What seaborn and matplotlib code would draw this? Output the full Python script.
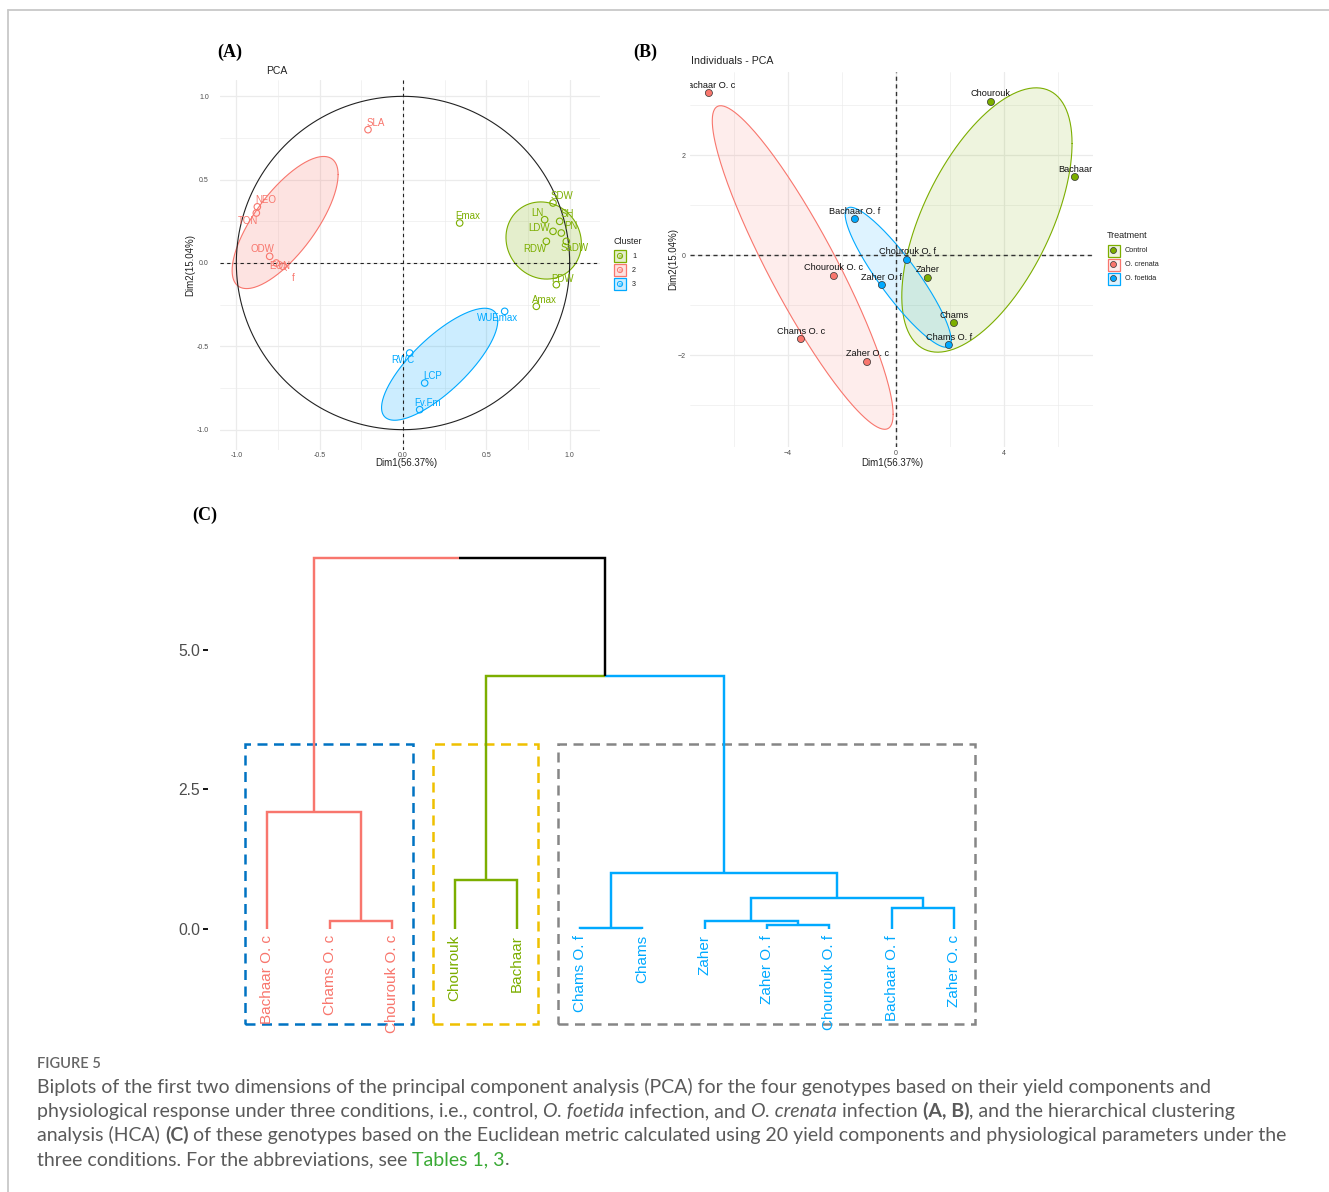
import numpy as np
import pandas as pd
import matplotlib
matplotlib.use("Agg")
import matplotlib.pyplot as plt
from matplotlib.patches import Rectangle, Circle
import seaborn as sns

# ---------------- data ----------------
# (A) variables projected on the first two dimensions
var_names = ["SLA", "NEO", "TON", "ODW", "EON", "f",
             "SDW", "LN", "SH", "LDW", "PN", "RDW", "SaDW", "PDW", "Amax", "Emax",
             "WUEmax", "RWC", "LCP", "Fv.Fm"]
var_dim1 = [-0.21, -0.874, -0.88, -0.80, -0.76, -0.72,
            0.90, 0.85, 0.94, 0.90, 0.95, 0.86, 0.98, 0.92, 0.80, 0.34,
            0.61, 0.04, 0.13, 0.10]
var_dim2 = [0.80, 0.337, 0.30, 0.04, 0.00, -0.02,
            0.36, 0.26, 0.25, 0.19, 0.18, 0.13, 0.13, -0.13, -0.26, 0.24,
            -0.29, -0.54, -0.72, -0.88]
var_cluster = ["2"] * 6 + ["1"] * 10 + ["3"] * 4
cluster_levels = ["1", "2", "3"]

# (B) individuals (genotype x condition)
ind_names = ["Chourouk", "Bachaar", "Zaher", "Chams",
             "Bachaar O. c", "Chourouk O. c", "Chams O. c", "Zaher O. c",
             "Bachaar O. f", "Chourouk O. f", "Zaher O. f", "Chams O. f"]
ind_dim1 = [3.52, 6.63, 1.18, 2.15,
            -6.93, -2.30, -3.52, -1.07,
            -1.52, 0.41, -0.52, 1.96]
ind_dim2 = [3.06, 1.56, -0.46, -1.36,
            3.24, -0.42, -1.68, -2.14,
            0.72, -0.10, -0.60, -1.80]
ind_treatment = ["Control"] * 4 + ["O. crenata"] * 4 + ["O. foetida"] * 4
treatment_levels = ["Control", "O. crenata", "O. foetida"]

# (C) hierarchical clustering: leaves in plotting order and merge table
leaf_labels = ["Bachaar O. c", "Chams O. c", "Chourouk O. c", "Chourouk", "Bachaar",
               "Chams O. f", "Chams", "Zaher", "Zaher O. f", "Chourouk O. f",
               "Bachaar O. f", "Zaher O. c"]
leaf_group = [1, 1, 1, 2, 2, 3, 3, 3, 3, 3, 3, 3]
merge_left = [1, 0, 3, 5, 8, 7, 10, 17, 15, 14, 13]
merge_right = [2, 12, 4, 6, 9, 16, 11, 18, 19, 20, 21]
merge_height = [0.15, 2.095, 0.875, 0.015, 0.08, 0.143, 0.37, 0.55, 1.01, 4.53, 6.64]
dend_ticks = [0.0, 2.5, 5.0]

# ---------------- style ----------------
RED, GREEN, BLUE = "#F8766D", "#7CAE00", "#00A9FF"
cluster_colors = {"1": GREEN, "2": RED, "3": BLUE}
treat_colors = {"Control": GREEN, "O. crenata": RED, "O. foetida": BLUE}
group_colors = {1: RED, 2: GREEN, 3: BLUE}
rect_colors = {1: "#0073C2", 2: "#EFC000", 3: "#868686"}
GRID = "#EBEBEB"
TICK = "#4D4D4D"

sns.set_theme(style="white")
plt.rcParams["font.family"] = ["Liberation Sans", "DejaVu Sans"]

W, H = 1329, 1192
fig = plt.figure(figsize=(W / 100, H / 100), dpi=100)
fig.patch.set_facecolor("white")


def px_axes(l, t, r, b, **kw):
    return fig.add_axes([l / W, 1 - b / H, (r - l) / W, (b - t) / H], **kw)


def norm_ellipse(x, y, level=0.5, npts=240):
    """Normal-theory data ellipse (as stat_ellipse type='norm')."""
    pts = np.column_stack([x, y])
    n = len(pts)
    center = pts.mean(axis=0)
    cov = np.cov(pts.T)
    d2 = n - 1
    q = d2 / 2 * ((1 - level) ** (-2 / d2) - 1)
    r = np.sqrt(2 * q)
    L = np.linalg.cholesky(cov)
    t = np.linspace(0, 2 * np.pi, npts)
    circ = np.column_stack([np.cos(t), np.sin(t)])
    return center + r * circ @ L.T


def minimal_grid(ax, major_x, minor_x, major_y, minor_y):
    for v in minor_x:
        ax.axvline(v, color=GRID, lw=0.45, zorder=0)
    for v in minor_y:
        ax.axhline(v, color=GRID, lw=0.45, zorder=0)
    for v in major_x:
        ax.axvline(v, color=GRID, lw=0.9, zorder=0)
    for v in major_y:
        ax.axhline(v, color=GRID, lw=0.9, zorder=0)
    ax.grid(False)
    for s in ax.spines.values():
        s.set_visible(False)


# overlay for frame, legends, panel tags and caption (pixel units)
ov = fig.add_axes([0, 0, 1, 1], zorder=-1)
ov.set_xlim(0, W)
ov.set_ylim(H, 0)
ov.axis("off")
ov.plot([7.5, 7.5], [9.5, H], color="#C8C8C8", lw=1.3)
ov.plot([7.5, W], [9.5, 9.5], color="#C8C8C8", lw=1.3)

# ================= (A) variables PCA =================
axA = px_axes(220, 80, 600, 450)
axA.set_xlim(-1.098, 1.182)
axA.set_ylim(-1.122, 1.098)
minimal_grid(axA, [-1, -0.5, 0, 0.5, 1], [-0.75, -0.25, 0.25, 0.75],
             [-1, -0.5, 0, 0.5, 1], [-0.75, -0.25, 0.25, 0.75])

dfA = pd.DataFrame({"Dim1": var_dim1, "Dim2": var_dim2, "Cluster": var_cluster, "name": var_names})
for cl in cluster_levels:
    sub = dfA[dfA["Cluster"] == cl]
    ell = norm_ellipse(sub["Dim1"].values, sub["Dim2"].values)
    axA.fill(ell[:, 0], ell[:, 1], facecolor=cluster_colors[cl], alpha=0.2, lw=0, zorder=1)
    axA.plot(ell[:, 0], ell[:, 1], color=cluster_colors[cl], lw=0.8, zorder=2)

th = np.linspace(0, 2 * np.pi, 400)
axA.plot(np.cos(th), np.sin(th), color="#222222", lw=0.8, zorder=3)
axA.axhline(0, color="#222222", lw=0.8, ls=(0, (3, 3)), zorder=3)
axA.axvline(0, color="#222222", lw=0.8, ls=(0, (3, 3)), zorder=3)

sns.scatterplot(data=dfA, x="Dim1", y="Dim2", hue="Cluster", palette=cluster_colors,
                hue_order=cluster_levels, s=22, linewidth=0.8, legend=False, ax=axA, zorder=4)
coll = axA.collections[-1]
coll.set_edgecolors(coll.get_facecolors())
coll.set_facecolors("none")

labA_off = {"SLA": (8, 7), "NEO": (8, 7), "TON": (-8, -8), "ODW": (-7, 7), "EON": (3, -3),
            "f": (10, -12), "SDW": (9, 7), "LN": (-7, 7), "SH": (8, 7), "LDW": (-14, 3),
            "PN": (10, 7), "RDW": (-11, -8), "SaDW": (8, -7), "PDW": (6, 6), "Amax": (8, 6),
            "Emax": (8, 7), "WUEmax": (-7, -7), "RWC": (-7, -7), "LCP": (8, 7), "Fv.Fm": (8, 7)}
for _, row in dfA.iterrows():
    dx, dy = labA_off[row["name"]]
    kw = {}
    if row["name"] == "f":
        kw["arrowprops"] = dict(arrowstyle="-", color=cluster_colors[row["Cluster"]], lw=0.6,
                                shrinkA=2, shrinkB=1)
    axA.annotate(row["name"], (row["Dim1"], row["Dim2"]), xytext=(dx * 0.72, dy * 0.72),
                 textcoords="offset points", ha="center", va="center", fontsize=7,
                 color=cluster_colors[row["Cluster"]], zorder=5, **kw)

axA.set_xticks([-1, -0.5, 0, 0.5, 1])
axA.set_xticklabels(["-1.0", "-0.5", "0.0", "0.5", "1.0"])
axA.set_yticks([-1, -0.5, 0, 0.5, 1])
axA.set_yticklabels(["-1.0", "-0.5", "0.0", "0.5", "1.0"])
axA.tick_params(axis="both", length=0, labelsize=5, labelcolor=TICK)
axA.tick_params(axis="x", pad=1.5)
axA.tick_params(axis="y", pad=8)
axA.set_xlabel("")
axA.set_ylabel("")
ov.text(406, 463, "Dim1(56.37%)", fontsize=7, ha="center", va="center", color="#222222")
ov.text(190, 265, "Dim2(15.04%)", fontsize=7, ha="center", va="center", rotation=90, color="#222222")
ov.text(266, 71, "PCA", fontsize=7.5, ha="left", va="center", color="#222222")

# legend (A)
ov.text(613, 241, "Cluster", fontsize=6.4, ha="left", va="center", color="#222222")
for i, cl in enumerate(cluster_levels):
    cy = 256 + 14 * i
    c = cluster_colors[cl]
    ov.add_patch(Rectangle((614, cy - 6), 12, 12, facecolor=c, alpha=0.2, lw=0))
    ov.add_patch(Rectangle((614, cy - 6), 12, 12, facecolor="none", edgecolor=c, lw=0.9))
    ov.add_patch(Circle((620, cy), 2.6, facecolor="none", edgecolor=c, lw=0.7))
    ov.text(620, cy + 0.3, "a", fontsize=4, ha="center", va="center", color=c)
    ov.text(632, cy, cl, fontsize=5.2, ha="left", va="center", color="#222222")

# ================= (B) individuals PCA =================
axB = px_axes(690, 72, 1093, 447)
axB.set_xlim(-7.63, 7.30)
axB.set_ylim(-3.84, 3.66)
minimal_grid(axB, [-4, 0, 4], [-6, -2, 2, 6], [-2, 0, 2], [-3, -1, 1, 3])

dfB = pd.DataFrame({"Dim1": ind_dim1, "Dim2": ind_dim2, "Treatment": ind_treatment, "name": ind_names})
for tr in treatment_levels:
    sub = dfB[dfB["Treatment"] == tr]
    ell = norm_ellipse(sub["Dim1"].values, sub["Dim2"].values)
    axB.fill(ell[:, 0], ell[:, 1], facecolor=treat_colors[tr], alpha=0.13, lw=0, zorder=1)
    axB.plot(ell[:, 0], ell[:, 1], color=treat_colors[tr], lw=0.8, zorder=2)

axB.axhline(0, color="#333333", lw=1.0, ls=(0, (3, 2.5)), zorder=3)
axB.axvline(0, color="#333333", lw=1.0, ls=(0, (3, 2.5)), zorder=3)

sns.scatterplot(data=dfB, x="Dim1", y="Dim2", hue="Treatment", palette=treat_colors,
                hue_order=treatment_levels, s=26, edgecolor="#333333", linewidth=0.5,
                legend=False, ax=axB, zorder=4)
for _, row in dfB.iterrows():
    t = axB.annotate(row["name"], (row["Dim1"], row["Dim2"]), xytext=(0, 8 * 0.72),
                     textcoords="offset points", ha="center", va="center", fontsize=6.6,
                     color="#111111", zorder=5)
    t.set_clip_on(True)
    t.set_clip_box(axB.bbox)

axB.set_xticks([-4, 0, 4])
axB.set_yticks([-2, 0, 2])
axB.tick_params(axis="both", length=0, labelsize=5, labelcolor=TICK)
axB.tick_params(axis="x", pad=2.5)
axB.tick_params(axis="y", pad=3)
axB.set_xlabel("")
axB.set_ylabel("")
ov.text(892, 463, "Dim1(56.37%)", fontsize=7, ha="center", va="center", color="#222222")
ov.text(673, 259, "Dim2(15.04%)", fontsize=7, ha="center", va="center", rotation=90, color="#222222")
ov.text(691, 61, "Individuals - PCA", fontsize=7.7, ha="left", va="center", color="#222222")

# legend (B)
ov.text(1107, 236, "Treatment", fontsize=6.5, ha="left", va="center", color="#222222")
for i, tr in enumerate(treatment_levels):
    cy = 250.5 + 14 * i
    c = treat_colors[tr]
    ov.add_patch(Rectangle((1107.5, cy - 6), 12, 12, facecolor=c, alpha=0.13, lw=0))
    ov.add_patch(Rectangle((1107.5, cy - 6), 12, 12, facecolor="none", edgecolor=c, lw=0.9))
    ov.add_patch(Circle((1113.5, cy), 3.0, facecolor=c, edgecolor="#333333", lw=0.5))
    ov.text(1125, cy, tr, fontsize=5.2, ha="left", va="center", color="#222222")

# ================= (C) dendrogram =================
axC = px_axes(208, 540, 1011, 1035)
axC.set_xlim(0.056, 12.904)
axC.set_ylim(-1.90, 6.97)
for s in axC.spines.values():
    s.set_visible(False)
axC.grid(False)

n_leaf = len(leaf_labels)
node_x = {i: float(i + 1) for i in range(n_leaf)}
node_h = {i: 0.0 for i in range(n_leaf)}
node_g = {i: {leaf_group[i]} for i in range(n_leaf)}
for k, (a, b, h) in enumerate(zip(merge_left, merge_right, merge_height)):
    nid = n_leaf + k
    node_x[nid] = (node_x[a] + node_x[b]) / 2
    node_h[nid] = h
    node_g[nid] = node_g[a] | node_g[b]
    for c in (a, b):
        col = group_colors[next(iter(node_g[c]))] if len(node_g[c]) == 1 else "black"
        axC.plot([node_x[c], node_x[c], node_x[nid]], [node_h[c], h, h], color=col, lw=1.75,
                 solid_capstyle="butt", solid_joinstyle="miter", zorder=3)

for i, lab in enumerate(leaf_labels):
    axC.text(i + 1, -0.11, lab, rotation=90, ha="center", va="top", fontsize=11,
             color=group_colors[leaf_group[i]], zorder=4)

for g in sorted(set(leaf_group)):
    idx = [i + 1 for i, lg in enumerate(leaf_group) if lg == g]
    x0, x1 = min(idx) - 0.35, max(idx) + 0.33
    axC.add_patch(Rectangle((x0, -1.70), x1 - x0, 3.32 + 1.70, facecolor="none",
                            edgecolor=rect_colors[g], lw=1.8, ls=(0, (4, 2.6)), zorder=2))

axC.set_xticks([])
axC.set_yticks(dend_ticks)
axC.set_yticklabels([f"{v:.1f}" for v in dend_ticks])
axC.tick_params(axis="y", left=True, length=3.6, width=1.3, color="black", pad=2,
                labelsize=11.3, labelcolor=TICK)
axC.set_xlabel("")
axC.set_ylabel("")

# ================= panel tags =================
tag_kw = dict(fontsize=13, fontweight="bold", family=["Liberation Serif", "DejaVu Serif"],
              ha="left", va="center", color="black")
ov.text(217, 52, "(A)", **tag_kw)
ov.text(633, 52, "(B)", **tag_kw)
ov.text(192, 515, "(C)", **tag_kw)

# ================= caption =================
fig.canvas.draw()
renderer = fig.canvas.get_renderer()


def text_width(s, **kw):
    t1 = ov.text(0, 0, "|" + s + "|", **kw)
    w1 = t1.get_window_extent(renderer).width
    t1.remove()
    t0 = ov.text(0, 0, "||", **kw)
    w0 = t0.get_window_extent(renderer).width
    t0.remove()
    return w1 - w0


CAP = dict(fontsize=14, color="#5A5A5A", family=["Lato", "DejaVu Sans"])


def rich_line(x0, y_base, runs):
    x = x0
    for s, extra in runs:
        kw = dict(CAP)
        kw.update(extra)
        ov.text(x, y_base, s, ha="left", va="baseline", **kw)
        x += text_width(s, **kw)


IT = {"style": "italic"}
BD = {"weight": "bold"}
LINK = {"color": "#3AAA35"}
ov.text(37, 1068, "FIGURE 5", ha="left", va="baseline", fontsize=10.5, color="#666666",
        family=["Lato", "DejaVu Sans"], weight="semibold")
rich_line(37, 1093, [("Biplots of the first two dimensions of the principal component analysis (PCA) "
                      "for the four genotypes based on their yield components and", {})])
rich_line(37, 1117, [("physiological response under three conditions, i.e., control, ", {}),
                     ("O. foetida", IT), (" infection, and ", {}), ("O. crenata", IT),
                     (" infection ", {}), ("(A, B)", BD), (", and the hierarchical clustering", {})])
rich_line(37, 1141, [("analysis (HCA) ", {}), ("(C)", BD),
                     (" of these genotypes based on the Euclidean metric calculated using 20 yield "
                      "components and physiological parameters under the", {})])
rich_line(37, 1165, [("three conditions. For the abbreviations, see ", {}), ("Tables 1, 3", LINK), (".", {})])

fig.savefig("out.png", dpi=100, facecolor="white")
